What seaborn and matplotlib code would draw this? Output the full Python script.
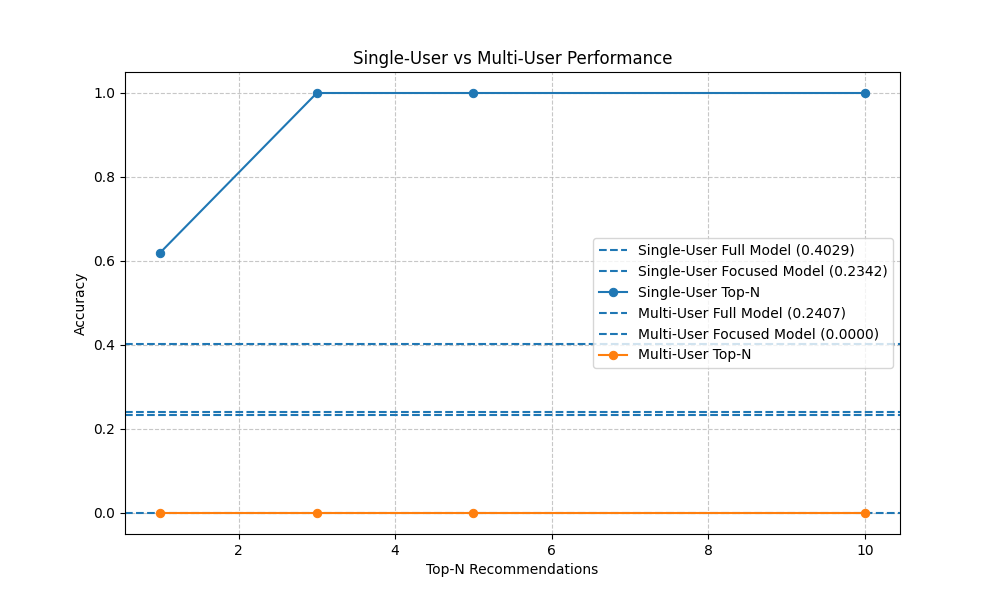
import matplotlib
matplotlib.use("Agg")
import matplotlib.pyplot as plt
import seaborn as sns

# --- Data ---
top_n = [1, 3, 5, 10]
single_topn = [0.62, 1.0, 1.0, 1.0]
multi_topn = [0.0, 0.0, 0.0, 0.0]

single_full = 0.4029
single_focused = 0.2342
multi_full = 0.2407
multi_focused = 0.0000

# --- Plot ---
fig, ax = plt.subplots(figsize=(10, 6), dpi=100)

ax.axhline(single_full, color="C0", linestyle="--", label=f"Single-User Full Model ({single_full:.4f})")
ax.axhline(single_focused, color="C0", linestyle="--", label=f"Single-User Focused Model ({single_focused:.4f})")
sns.lineplot(x=top_n, y=single_topn, marker="o", color="C0", markeredgecolor="C0",
             markersize=6, label="Single-User Top-N", ax=ax)

ax.axhline(multi_full, color="C0", linestyle="--", label=f"Multi-User Full Model ({multi_full:.4f})")
ax.axhline(multi_focused, color="C0", linestyle="--", label=f"Multi-User Focused Model ({multi_focused:.4f})")
sns.lineplot(x=top_n, y=multi_topn, marker="o", color="C1", markeredgecolor="C1",
             markersize=6, label="Multi-User Top-N", ax=ax)

ax.set_title("Single-User vs Multi-User Performance")
ax.set_xlabel("Top-N Recommendations")
ax.set_ylabel("Accuracy")
ax.grid(True, linestyle="--", alpha=0.7)
ax.legend(loc="center right")

plt.savefig("out.png")
